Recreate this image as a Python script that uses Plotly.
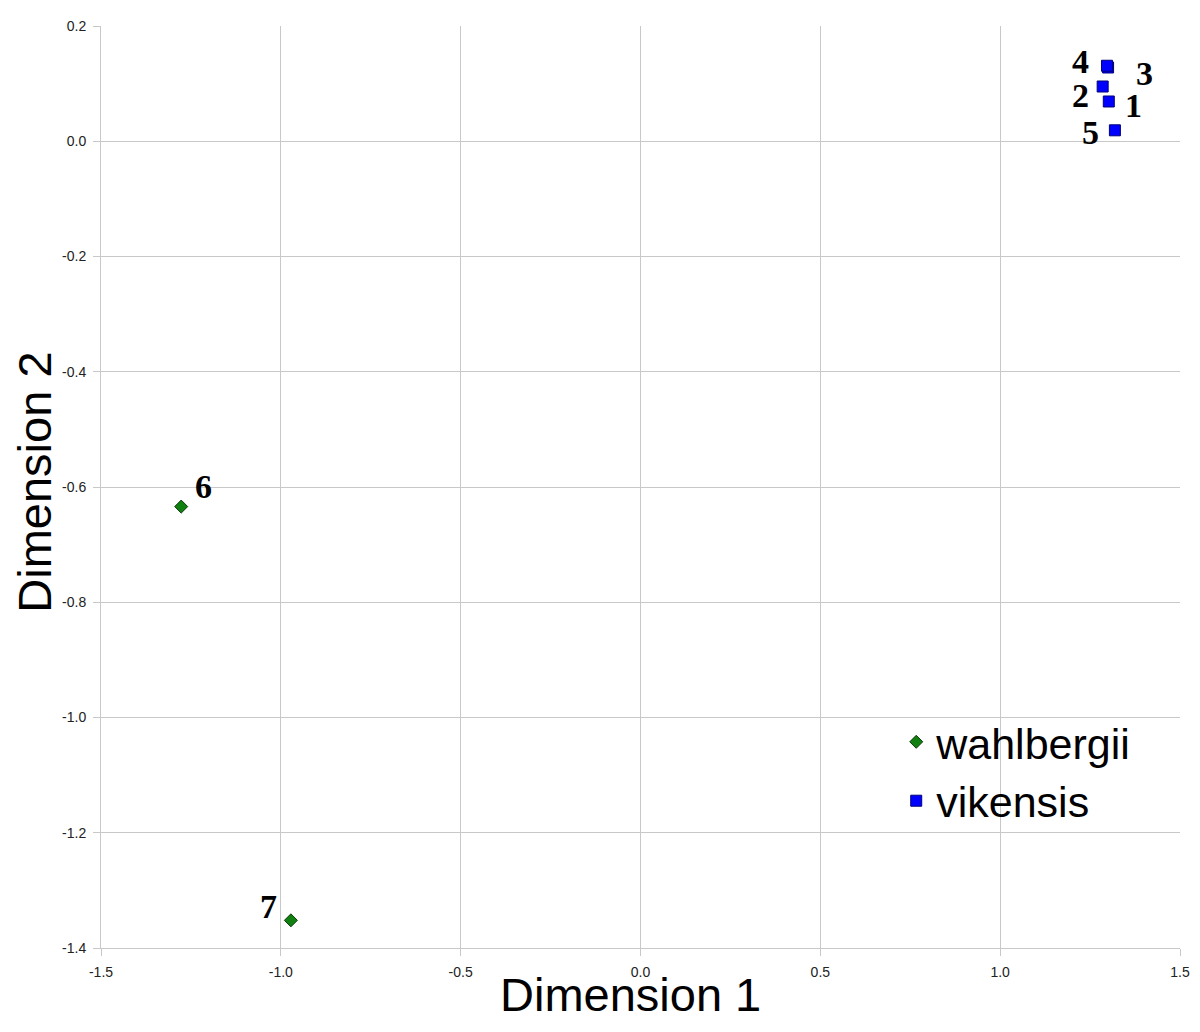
import plotly.graph_objects as go

# wahlbergii
w_ids = ["6", "7"]
w_x = [-1.277, -0.972]
w_y = [-0.634, -1.352]

# vikensis
v_ids = ["1", "2", "3", "4", "5"]
v_x = [1.302, 1.285, 1.300, 1.297, 1.319]
v_y = [0.069, 0.095, 0.128, 0.131, 0.019]

x_ticks = [-1.5, -1.0, -0.5, 0.0, 0.5, 1.0, 1.5]
x_ticktext = ["-1.5", "-1.0", "-0.5", "0.0", "0.5", "1.0", "1.5"]
y_ticks = [0.2, 0.0, -0.2, -0.4, -0.6, -0.8, -1.0, -1.2, -1.4]
y_ticktext = ["0.2", "0.0", "-0.2", "-0.4", "-0.6", "-0.8", "-1.0", "-1.2", "-1.4"]

x_title = "Dimension 1"
y_title = "Dimension 2"

# label offsets (pixels) for point annotations
label_shift = {
    "1": (25, -4), "2": (-22, -9), "3": (36, -6), "4": (-26, 4),
    "5": (-24, -2), "6": (22, 20), "7": (-22, 14),
}

fig = go.Figure()
fig.add_trace(go.Scatter(
    x=w_x, y=w_y, mode="markers", name="wahlbergii",
    marker=dict(symbol="diamond", size=10, color="#108010",
                line=dict(color="#0a3a0a", width=1)),
))
fig.add_trace(go.Scatter(
    x=v_x, y=v_y, mode="markers", name="vikensis",
    marker=dict(symbol="square", size=11, color="#0000ff",
                line=dict(color="#00007a", width=1)),
))

for ids, xs, ys in [(v_ids, v_x, v_y), (w_ids, w_x, w_y)]:
    for i, xv, yv in zip(ids, xs, ys):
        dx, dy = label_shift[i]
        fig.add_annotation(
            x=xv, y=yv, text="<b>%s</b>" % i, showarrow=False,
            xshift=dx, yshift=dy,
            font=dict(family="Liberation Serif", size=34, color="black"),
        )

# axis titles
title_font = dict(family="Liberation Sans", size=47, color="black")
fig.add_annotation(
    x=0.491, y=-0.0813, xref="paper", yref="paper",
    xanchor="center", yanchor="bottom", text=x_title, showarrow=False,
    font=title_font,
)
fig.add_annotation(
    x=-0.0624, y=0.5054, xref="paper", yref="paper",
    xanchor="center", yanchor="middle", text=y_title, showarrow=False,
    textangle=-90, font=title_font,
)

axis_common = dict(
    showgrid=True, gridcolor="#c8c8c8", gridwidth=1,
    zeroline=False, showline=True, linecolor="#c8c8c8", linewidth=1,
    ticks="outside", ticklen=7, tickcolor="#c8c8c8",
    tickfont=dict(family="Liberation Sans", size=14, color="#222222"),
    ticklabelstandoff=4,
    mirror=False,
)

fig.update_xaxes(range=[-1.5, 1.5], tickvals=x_ticks, ticktext=x_ticktext, **axis_common)
fig.update_yaxes(range=[-1.4, 0.2], tickvals=y_ticks, ticktext=y_ticktext, **axis_common)

fig.update_layout(
    width=1184, height=1016,
    margin=dict(l=93, r=12, t=18, b=76, autoexpand=False),
    plot_bgcolor="white", paper_bgcolor="white",
    showlegend=True,
    legend=dict(
        x=0.737, y=0.261, xanchor="left", yanchor="top",
        font=dict(family="Liberation Sans", size=43, color="black"),
        bgcolor="rgba(0,0,0,0)", itemsizing="trace", tracegroupgap=0,
    ),
)

fig.write_html("out.html")
